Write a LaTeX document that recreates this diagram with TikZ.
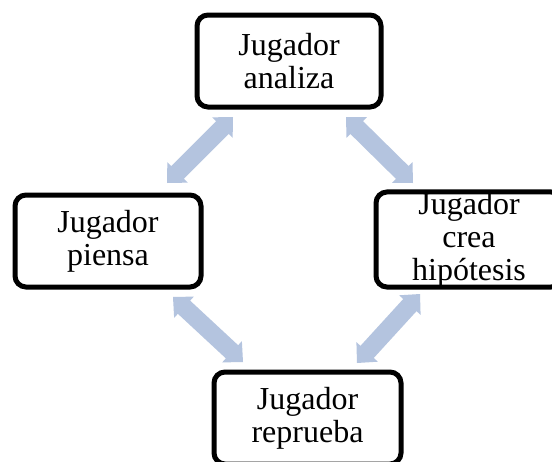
\documentclass[tikz,border=0pt]{standalone}
\usepackage{fontspec}
\setmainfont{Liberation Serif}
\usetikzlibrary{calc}
\definecolor{arrowblue}{RGB}{180,196,223}
\tikzset{
  stepbox/.style={draw=black, line width=5pt, rounded corners=11pt, fill=white,
    minimum width=186pt, minimum height=92pt, inner sep=0pt, align=center,
    font=\fontsize{32}{33}\selectfont},
  blockarrow/.style={fill=arrowblue, draw=none}
}
\newcommand\dblarrow[2]{%
  \path[blockarrow] (#1)
    -- ($(#1)!15pt!(#2)!14.5pt!90:(#2)$)
    -- ($(#1)!15pt!(#2)!9pt!90:(#2)$)
    -- ($(#2)!15pt!(#1)!9pt!-90:(#1)$)
    -- ($(#2)!15pt!(#1)!14.5pt!-90:(#1)$)
    -- (#2)
    -- ($(#2)!15pt!(#1)!14.5pt!90:(#1)$)
    -- ($(#2)!15pt!(#1)!9pt!90:(#1)$)
    -- ($(#1)!15pt!(#2)!9pt!-90:(#2)$)
    -- ($(#1)!15pt!(#2)!14.5pt!-90:(#2)$)
    -- cycle;}
\begin{document}
\begin{tikzpicture}[x=1pt,y=-1pt]
\path[use as bounding box, clip] (0,0) rectangle (552,461);
\fill[white] (0,0) rectangle (552,461);
\node[stepbox, minimum width=184pt] (analiza) at (289,61) {Jugador\\analiza};
\node[stepbox] (piensa) at (108,241) {Jugador\\piensa};
\node[stepbox, minimum height=93pt] (crea) at (469,239.5) {Jugador\\crea\\hipótesis};
\node[stepbox, minimum width=187pt] (reprueba) at (307.5,418) {Jugador\\reprueba};
\coordinate (a1s) at (233,117);
\coordinate (a1e) at (167,183);
\coordinate (a2s) at (346,117);
\coordinate (a2e) at (413,183);
\coordinate (a3s) at (173,297);
\coordinate (a3e) at (243,362);
\coordinate (a4s) at (420,294);
\coordinate (a4e) at (357,363);
\dblarrow{a1s}{a1e}
\dblarrow{a2s}{a2e}
\dblarrow{a3s}{a3e}
\dblarrow{a4s}{a4e}
\end{tikzpicture}
\end{document}
